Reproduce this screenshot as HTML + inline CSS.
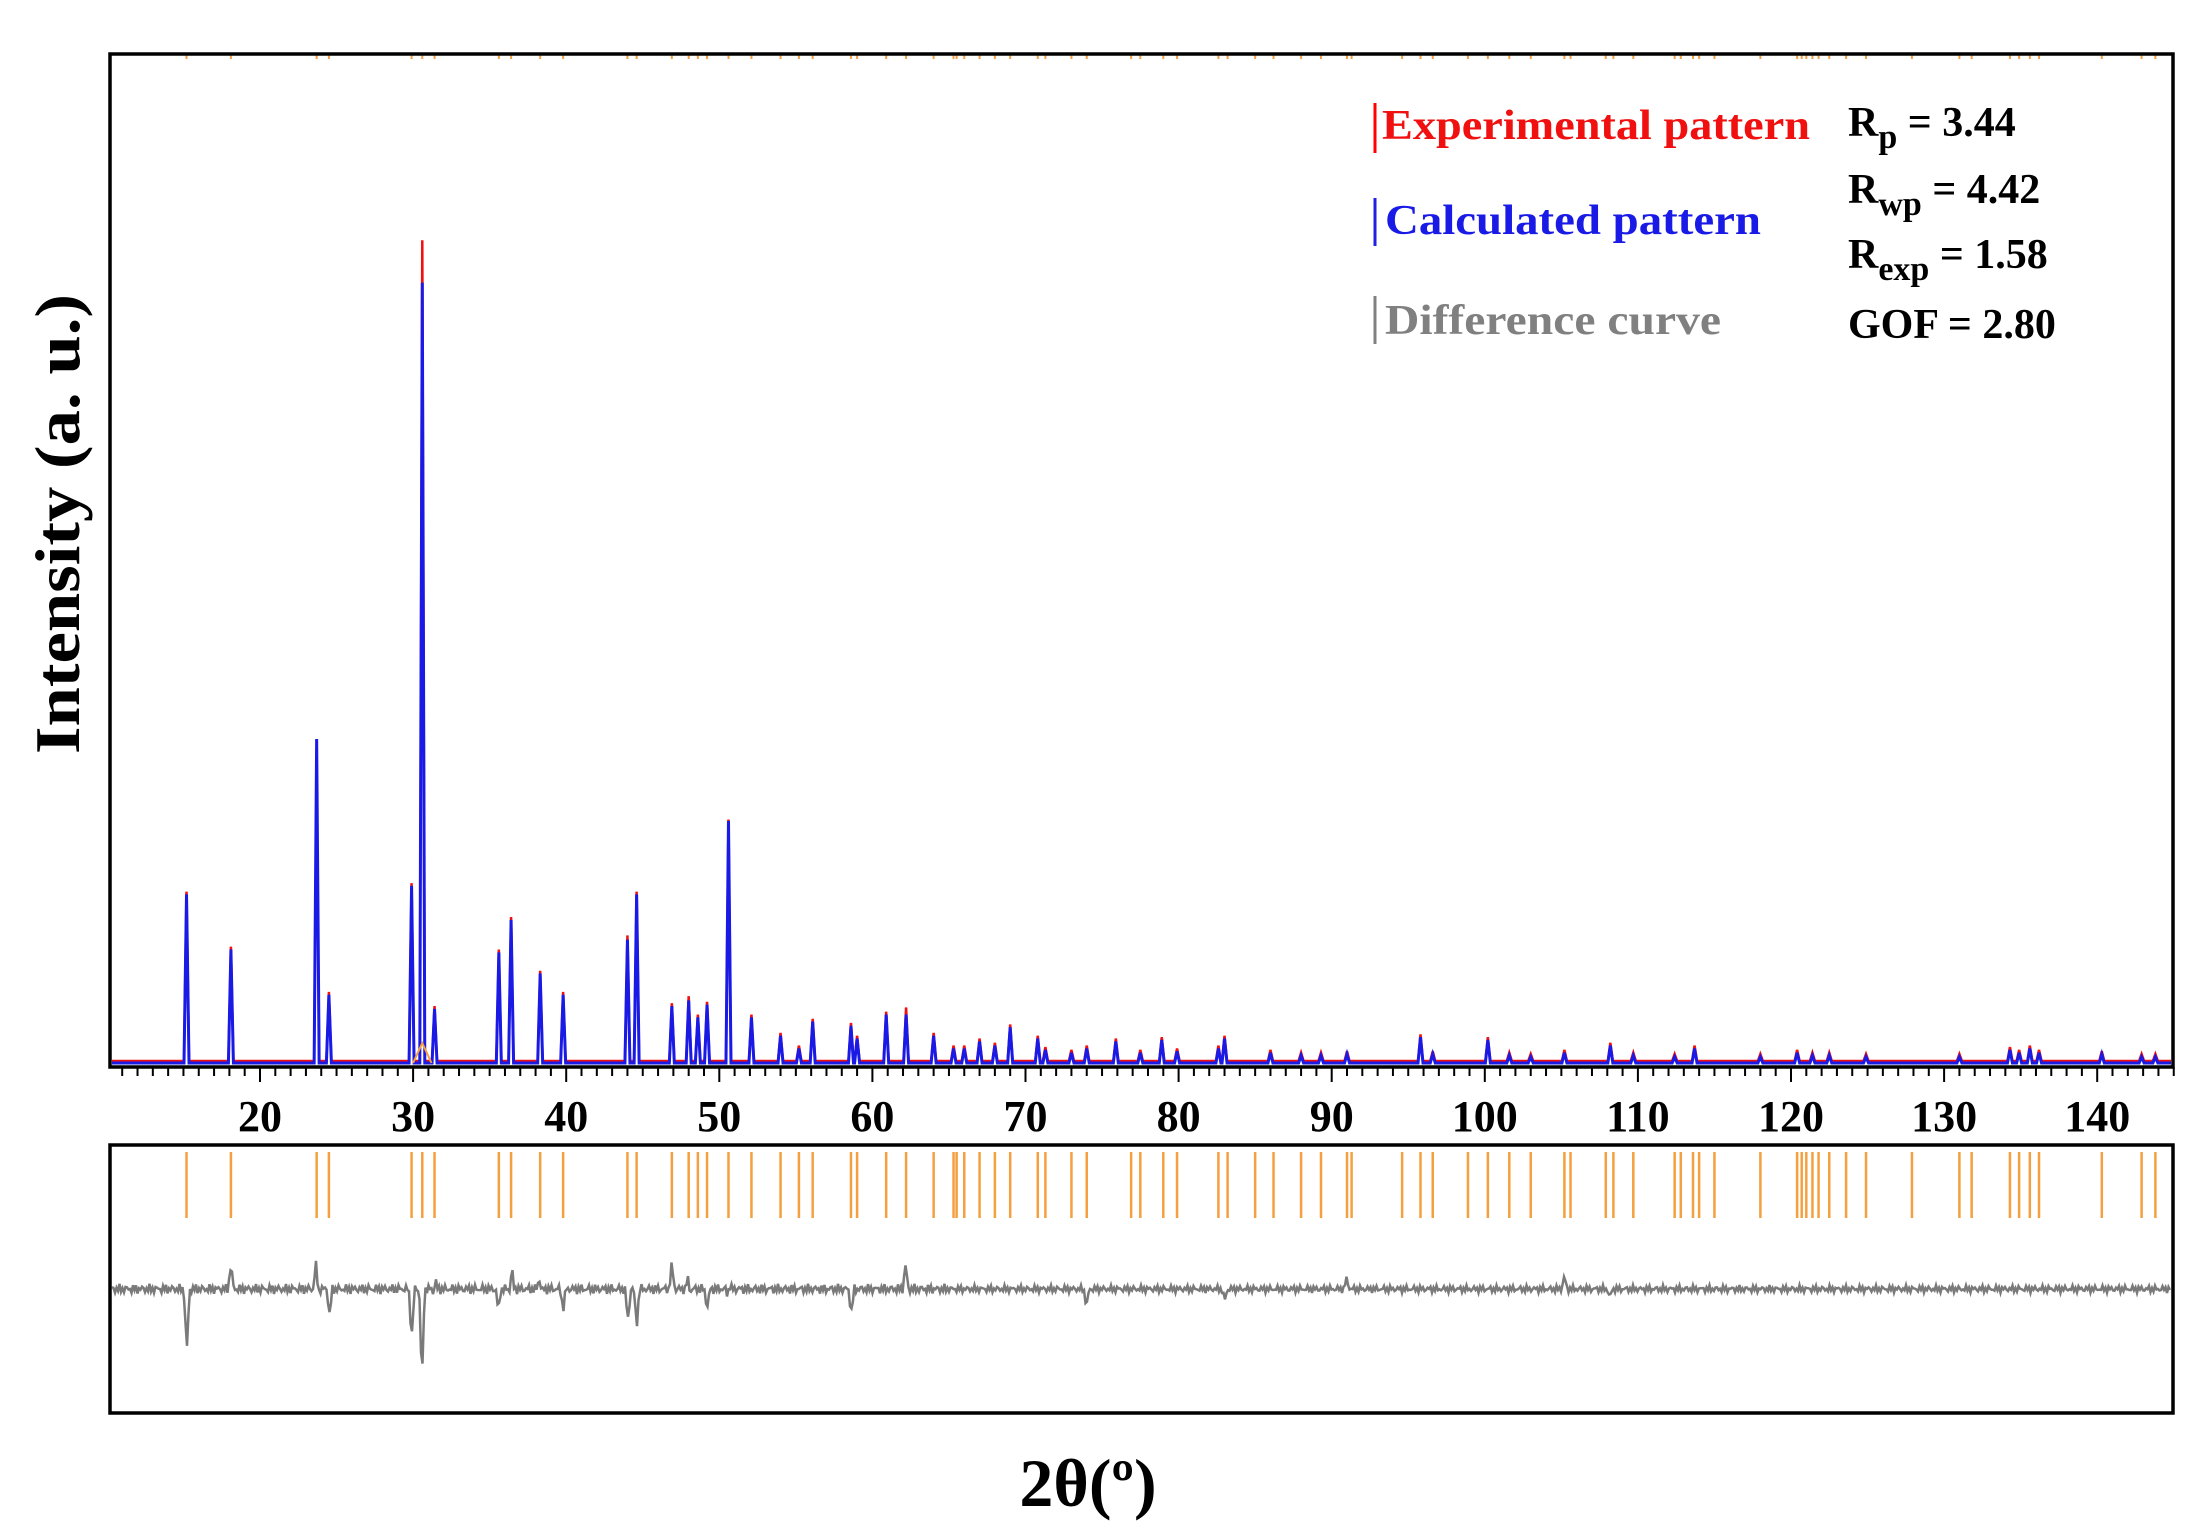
<!DOCTYPE html>
<html><head><meta charset="utf-8">
<style>
html,body{margin:0;padding:0;background:#fff;}
svg{display:block;}
text{font-family:"Liberation Serif",serif;font-weight:bold;}
</style></head>
<body>
<svg id="s" width="2204" height="1535" viewBox="0 0 2204 1535" xmlns="http://www.w3.org/2000/svg">
<rect width="2204" height="1535" fill="#fff"/>
<g id="peaks"></g>
<g id="ticks"></g>
<g id="hkl"></g>
<g id="diff"></g>
<rect x="110" y="54" width="2063" height="1013" fill="none" stroke="#000" stroke-width="3.5"/>
<rect x="110" y="1145" width="2063" height="268" fill="none" stroke="#000" stroke-width="3.5"/>
<g id="labels" font-size="44" text-anchor="middle"></g>
<text x="0" y="0" font-size="64" text-anchor="middle" transform="translate(79,524) rotate(-90)" textLength="460" lengthAdjust="spacingAndGlyphs">Intensity (a. u.)</text>
<text x="1088" y="1506" font-size="68" text-anchor="middle">2θ(º)</text>
<line x1="1375" y1="103" x2="1375" y2="153" stroke="#f00" stroke-width="3"/>
<text x="1382" y="139" font-size="42" fill="#f01010" textLength="428" lengthAdjust="spacingAndGlyphs">Experimental pattern</text>
<line x1="1375" y1="198" x2="1375" y2="246" stroke="#2020e0" stroke-width="3"/>
<text x="1385" y="234" font-size="42" fill="#1a1ae6" textLength="376" lengthAdjust="spacingAndGlyphs">Calculated pattern</text>
<line x1="1375" y1="296" x2="1375" y2="344" stroke="#808080" stroke-width="3"/>
<text x="1385" y="334" font-size="42" fill="#808080" textLength="336" lengthAdjust="spacingAndGlyphs">Difference curve</text>
<g font-size="42" fill="#000">
<text x="1848" y="136">R<tspan font-size="34" dy="12">p</tspan><tspan dy="-12"> = 3.44</tspan></text>
<text x="1848" y="203">R<tspan font-size="34" dy="12">wp</tspan><tspan dy="-12"> = 4.42</tspan></text>
<text x="1848" y="268">R<tspan font-size="34" dy="12">exp</tspan><tspan dy="-12"> = 1.58</tspan></text>
<text x="1848" y="338">GOF = 2.80</text>
</g>
</svg>
<script>
var NS="http://www.w3.org/2000/svg";
function X(t){return 260+(t-20)*15.31;}
function el(p,n,a){var e=document.createElementNS(NS,n);for(var k in a)e.setAttribute(k,a[k]);p.appendChild(e);return e;}
var B=1063;
var pk=[[15.2,633],[18.1,672],[23.7,523],[24.5,704],[29.9,627],[30.6,200],[31.4,714],[35.6,674],[36.4,651],[38.3,689],[39.8,704],[44.0,665],[44.6,633],[46.9,712],[48.0,708],[48.6,720],[49.2,711],[50.6,581],[52.1,720],[54.0,733],[55.2,742],[56.1,723],[58.6,726],[59.0,735],[60.9,718],[62.2,718],[64.0,733],[65.3,742],[66.0,742],[67.0,737],[68.0,740],[69.0,727],[70.8,735],[71.3,743],[73.0,745],[74.0,742],[75.9,737],[77.5,745],[78.9,736],[79.9,744],[82.6,742],[83.0,735],[86.0,745],[88.0,747],[89.3,747],[91.0,746],[95.8,734],[96.6,746],[100.2,736],[101.6,747],[103,748],[105.2,745],[108.2,740],[109.7,747],[112.4,748],[113.7,742],[118,748],[120.4,745],[121.4,747],[122.5,747],[124.9,748],[131,748],[134.3,743],[134.9,745],[135.6,742],[136.2,745],[140.3,746],[142.9,748],[143.8,748]];
var g=document.getElementById("peaks");
var redExtra={30.6:170,23.7:545,29.9:625,44.0:662,50.6:580,62.2:713,48.0:705};
var dr="M112,"+(B-2)+" ",db="M112,"+B+" ";
pk.forEach(function(p){var x=X(p[0]);var yb=p[1]*1.413;var yr=(redExtra[p[0]]||p[1]-2)*1.413;
dr+="L"+(x-2.5)+","+(B-2)+" L"+x+","+yr+" L"+(x+2.5)+","+(B-2)+" ";
db+="L"+(x-2.5)+","+B+" L"+x+","+yb+" L"+(x+2.5)+","+B+" ";});
dr+="L2171,"+(B-2);db+="L2171,"+B;
el(g,"path",{d:dr,fill:"none",stroke:"#f01010","stroke-width":2.5});
el(g,"path",{d:db,fill:"none",stroke:"#1a1ae6","stroke-width":3});
el(g,"path",{d:"M"+X(30)+","+B+" L"+X(30.6)+","+(B-20)+" L"+X(31.2)+","+B,fill:"none",stroke:"#f5a040","stroke-width":2});
var t=document.getElementById("ticks");
for(var d=11;d<=145;d++){var x=X(d);el(t,"line",{x1:x,y1:1067,x2:x,y2:d%10==0?1082:1076,stroke:"#000","stroke-width":2});}
var L=document.getElementById("labels");
for(var d=20;d<=140;d+=10){var tx=el(L,"text",{x:X(d),y:1131});tx.textContent=d;}
var h=[15.2,18.1,23.7,24.5,29.9,30.6,31.4,35.6,36.4,38.3,39.8,44.0,44.6,46.9,48.0,48.6,49.2,50.6,52.1,54.0,55.2,56.1,58.6,59.0,60.9,62.2,64.0,65.3,65.5,66.0,67.0,68.0,69.0,70.8,71.3,73.0,74.0,76.9,77.5,79.0,79.9,82.6,83.2,85.0,86.2,88.0,89.3,91.0,91.3,94.6,95.8,96.6,98.9,100.2,101.6,103.0,105.2,105.6,107.9,108.4,109.7,112.4,112.8,113.6,114.0,115.0,118.0,120.4,120.7,121.0,121.4,121.8,122.5,123.6,124.9,127.9,131.0,131.8,134.3,134.9,135.6,136.2,140.3,142.9,143.8];
var hg=document.getElementById("hkl");
h.forEach(function(v){var x=X(v);el(hg,"line",{x1:x,y1:1152,x2:x,y2:1218,stroke:"#f5a040","stroke-width":2.5});el(hg,"line",{x1:x,y1:54,x2:x,y2:59,stroke:"#f5a040","stroke-width":2});});
var big={15.2:35,18.1:12,23.7:25,24.5:22,29.9:25,30.6:55,31.4:12,35.6:15,36.4:20,38.3:12,39.8:10,44.0:22,44.6:18,46.9:12,48.0:12,49.2:10,50.6:10,58.6:15,62.2:18,74.0:12,83.0:8,91.0:8,105.2:8,108.2:8};
var dd="",c=1289,x0=112;
for(var x=x0;x<=2170;x+=1.5){var th=20+(x-260)/15.31;var a=2.5*Math.sin(x*2.3)+1.5*Math.sin(x*0.83);
for(var k in big){var dth=th-parseFloat(k);if(Math.abs(dth)<0.2){a+=big[k]*Math.sin(dth*60)*(1-Math.abs(dth)/0.2)*1.6;}}
if(th<65)a*=1.3;
dd+=(x==x0?"M":"L")+x+","+(c+a).toFixed(1)+" ";}
el(document.getElementById("diff"),"path",{d:dd,fill:"none",stroke:"#7a7a7a","stroke-width":2.5});
</script>
</body></html>
